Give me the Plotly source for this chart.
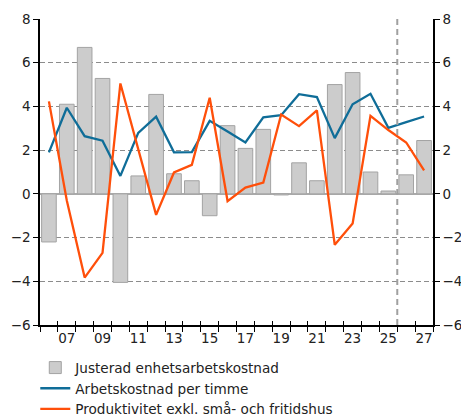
import plotly.graph_objects as go

years = list(range(2006, 2028))
tick_years = list(range(2007, 2028, 2))
tick_labels = ["07", "09", "11", "13", "15", "17", "19", "21", "23", "25", "27"]

justerad = [-2.2, 4.1, 6.7, 5.28, -4.05, 0.82, 4.55, 0.92, 0.6, -1.0, 3.12,
            2.08, 2.95, -0.05, 1.42, 0.6, 5.0, 5.55, 1.0, 0.13, 0.87, 2.44]
arbetskostnad = [1.9, 3.94, 2.64, 2.43, 0.82, 2.79, 3.53, 1.9, 1.91, 3.34, 2.85,
                 2.35, 3.5, 3.6, 4.56, 4.43, 2.55, 4.1, 4.58, 3.02, 3.28, 3.54]
produktivitet = [4.23, -0.3, -3.83, -2.7, 5.05, 2.05, -0.96, 0.98, 1.33, 4.4, -0.33,
                 0.29, 0.52, 3.63, 3.1, 3.82, -2.33, -1.36, 3.57, 2.92, 2.35, 1.07]

names = ["Justerad enhetsarbetskostnad", "Arbetskostnad per timme",
         "Produktivitet exkl. små- och fritidshus"]

BLUE = "#0f6d98"
ORANGE = "#ff4f0a"
FONT = "DejaVu Sans"

fig = go.Figure()
fig.add_trace(go.Bar(x=years, y=justerad, name=names[0], width=0.82,
                     marker=dict(color="#cccccc", line=dict(color="#a3a3a3", width=1))))
fig.add_trace(go.Scatter(x=years, y=arbetskostnad, name=names[1], mode="lines",
                         line=dict(color=BLUE, width=2.3)))
fig.add_trace(go.Scatter(x=years, y=produktivitet, name=names[2], mode="lines",
                         line=dict(color=ORANGE, width=2.3)))
# dummy traces to show right axis and the upper half of the x ticks
fig.add_trace(go.Scatter(x=[years[0]], y=[0], yaxis="y2", showlegend=False,
                         mode="markers", marker=dict(opacity=0), hoverinfo="skip"))
fig.add_trace(go.Scatter(x=[years[0]], y=[0], xaxis="x2", showlegend=False,
                         mode="markers", marker=dict(opacity=0), hoverinfo="skip"))

fig.add_shape(type="line", x0=2025.5, x1=2025.5, y0=0, y1=1, yref="paper", xref="x",
              line=dict(color="#a0a0a0", width=2, dash="6px,4px"))

fig.update_layout(
    width=461, height=419,
    margin=dict(l=40, r=28, t=19, b=94, autoexpand=False),
    paper_bgcolor="white", plot_bgcolor="white",
    font=dict(family=FONT, size=13.5, color="#222222"),
    showlegend=True,
    legend=dict(orientation="v", x=-0.012, xanchor="left", y=-0.089, yanchor="top",
                font=dict(size=13.6, family=FONT), itemwidth=30, tracegroupgap=0,
                bgcolor="rgba(0,0,0,0)"),
    xaxis=dict(range=[2005.5, 2027.5], tickvals=tick_years, ticktext=tick_labels,
               ticks="", showgrid=False, zeroline=False, automargin=False,
               showline=True, linecolor="black", linewidth=1.5,
               minor=dict(tick0=2005.5, dtick=1, ticks="outside", ticklen=5,
                          tickcolor="black", tickwidth=1, showgrid=False),
               tickfont=dict(size=13.5)),
    xaxis2=dict(range=[2005.5, 2027.5], overlaying="x", side="bottom", anchor="y",
                showticklabels=False, showgrid=False, zeroline=False, automargin=False,
                ticks="inside", tick0=2005.5, dtick=1, ticklen=4, tickcolor="black",
                showline=False),
    yaxis=dict(range=[-6, 8], dtick=2, tick0=0, showgrid=True, gridcolor="#8c8c8c",
               griddash="5px,3px", gridwidth=1, zeroline=True, zerolinecolor="#aaaaaa",
               zerolinewidth=1.5, showline=True, linecolor="black", linewidth=1.5,
               automargin=False,
               ticks="outside", ticklen=5, tickcolor="black", tickfont=dict(size=13.5)),
    yaxis2=dict(range=[-6, 8], dtick=2, tick0=0, overlaying="y", side="right",
                showgrid=False, zeroline=False, showline=True, linecolor="black",
                linewidth=1.5, ticks="outside", ticklen=5, tickcolor="black",
                automargin=False, tickfont=dict(size=13.5)),
)

fig.write_html("out.html", config={"displayModeBar": False},
               post_script="document.body.style.margin='0px';document.body.style.overflow='hidden';")
